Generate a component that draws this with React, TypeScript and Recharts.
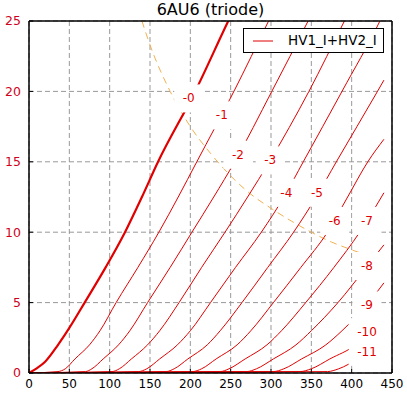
import React from "react";
import { ComposedChart, Line, Scatter, XAxis, YAxis, CartesianGrid } from "recharts";

// plate voltage (V), plate current (mA)
const g0 = [[0, 0], [10, 0.35], [20, 0.8], [36, 2.0], [50, 3.2], [69, 5], [95, 7.5], [119, 10], [140, 12.5], [160, 15], [206, 20], [247, 25], [290, 30]];
const g1 = [[0, 0], [36, 0.1], [45, 0.3], [57, 1], [75, 2], [88, 3], [108, 5], [135, 7.5], [161, 10], [185, 12.5], [208, 15], [254, 20], [297, 25], [340, 30]];
const g2 = [[0, 0], [70, 0.1], [78, 0.3], [92, 1], [111, 2], [125, 3], [147, 5], [175, 7.5], [202, 10], [229, 12.5], [255, 15], [301, 20], [346, 25], [390, 30]];
const g3 = [[0, 0], [103, 0.1], [112, 0.3], [127, 1], [147, 2], [162, 3], [186, 5], [214, 7.5], [243, 10], [271, 12.5], [298, 15], [347, 20], [391, 25], [435, 30]];
const g4 = [[0, 0], [136, 0.1], [146, 0.3], [162, 1], [184, 2], [200, 3], [225, 5], [256, 7.5], [288, 10], [316, 12.5], [340, 15], [388, 20], [435, 25], [440, 25.6]];
const g5 = [[0, 0], [170, 0.1], [180, 0.3], [197, 1], [221, 2], [237, 3], [264, 5], [296, 7.5], [328, 10], [356, 12.5], [381, 15], [432, 20], [440, 20.8]];
const g6 = [[0, 0], [203, 0.1], [214, 0.3], [232, 1], [258, 2], [275, 3], [303, 5], [337, 7.5], [370, 10], [395, 12.5], [420, 15], [440, 16.6]];
const g7 = [[0, 0], [237, 0.1], [248, 0.3], [268, 1], [295, 2], [313, 3], [343, 5], [378, 7.5], [410, 10], [440, 12.8]];
const g8 = [[0, 0], [270, 0.1], [282, 0.3], [303, 1], [331, 2], [350, 3], [383, 5], [418, 7.5], [440, 9.1]];
const g9 = [[0, 0], [303, 0.1], [316, 0.3], [338, 1], [368, 2], [388, 3], [421, 5], [440, 6.4]];
const g10 = [[0, 0], [336, 0.1], [350, 0.3], [373, 1], [405, 2], [424, 3], [440, 3.8]];
const g11 = [[0, 0], [370, 0.1], [384, 0.3], [408, 1], [440, 2.0]];

// max plate dissipation line
const pmax = [[140, 25], [150, 23.3], [175, 20], [200, 17.5], [225, 15.6], [250, 14], [275, 12.7], [300, 11.7], [325, 10.8], [350, 10], [375, 9.3], [400, 8.75], [427, 8.2]];

const labelText = ["-0", "-1", "-2", "-3", "-4", "-5", "-6", "-7", "-8", "-9", "-10", "-11"];
const labelV = [198, 239, 259, 299, 319, 357, 379, 419, 419, 419, 419, 419];
const labelI = [19.5, 18.3, 15.5, 15.1, 12.8, 12.8, 10.8, 10.8, 7.6, 4.8, 2.9, 1.5];

const xTicks = [0, 50, 100, 150, 200, 250, 300, 350, 400, 450];
const yTicks = [0, 5, 10, 15, 20, 25];

const RED = "#e00000";
const FONT = "DejaVu Sans";

const curves = [g0, g1, g2, g3, g4, g5, g6, g7, g8, g9, g10, g11];
const toRows = (pts: number[][]) => pts.map(([v, i]) => ({ v, i }));
const labels = labelText.map((t, k) => ({ v: labelV[k], i: labelI[k], t }));

const LabelBox = (props: any) => {
  const { cx, cy, payload } = props;
  const w = payload.t.length * 7.5 + 14;
  return (
    <g>
      <rect x={cx - w / 2} y={cy - 14} width={w} height={28} fill="#fff" />
      <text x={cx} y={cy} textAnchor="middle" dominantBaseline="central" fill={RED} fontSize={12} fontFamily={FONT}>
        {payload.t}
      </text>
    </g>
  );
};

export default function App() {
  return (
    <div style={{ position: "absolute", left: 0, top: 0, width: 407, height: 398, background: "#fff", fontFamily: FONT }}>
      <ComposedChart width={407} height={398} margin={{ top: 0, right: 0, bottom: 0, left: 0 }}>
        <CartesianGrid strokeDasharray="5 3" stroke="#999" />
        <XAxis
          dataKey="v"
          type="number"
          domain={[0, 450]}
          ticks={xTicks}
          height={25}
          tickSize={-4}
          tickMargin={10}
          tick={{ fill: "#000", fontSize: 12, fontFamily: FONT }}
          axisLine={{ stroke: "#000", strokeWidth: 1.5 }}
          tickLine={{ stroke: "#000" }}
        />
        <XAxis
          xAxisId="top"
          orientation="top"
          type="number"
          domain={[0, 450]}
          ticks={xTicks}
          height={21}
          tickSize={-4}
          tick={false}
          axisLine={{ stroke: "#000", strokeWidth: 1.5 }}
          tickLine={{ stroke: "#000" }}
        />
        <YAxis
          type="number"
          domain={[0, 25]}
          allowDataOverflow
          ticks={yTicks}
          width={29}
          tickSize={-4}
          tickMargin={12}
          tick={{ fill: "#d0021b", fontSize: 12.5, fontFamily: FONT }}
          axisLine={{ stroke: "#000", strokeWidth: 1.5 }}
          tickLine={{ stroke: "#000" }}
        />
        <YAxis
          yAxisId="right"
          orientation="right"
          type="number"
          domain={[0, 25]}
          ticks={yTicks}
          width={15}
          tickSize={-4}
          tick={false}
          axisLine={{ stroke: "#000", strokeWidth: 1.5 }}
          tickLine={{ stroke: "#000" }}
        />
        <Line
          data={toRows(pmax)}
          dataKey="i"
          type="monotone"
          stroke="#f0b050"
          strokeWidth={1}
          strokeDasharray="7 5"
          dot={false}
          activeDot={false}
          isAnimationActive={false}
        />
        {curves.map((c, k) => (
          <Line
            key={k}
            data={toRows(c)}
            dataKey="i"
            type="monotone"
            stroke={RED}
            strokeWidth={k === 0 ? 2.2 : 1}
            dot={false}
            activeDot={false}
            isAnimationActive={false}
          />
        ))}
        <Scatter data={labels} dataKey="i" shape={<LabelBox />} isAnimationActive={false} />
      </ComposedChart>

      <div
        style={{
          position: "absolute",
          left: 29,
          top: 1,
          width: 363,
          textAlign: "center",
          fontSize: 16,
          lineHeight: 1.1,
          color: "#000",
        }}
      >
        6AU6 (triode)
      </div>

      <div
        style={{
          position: "absolute",
          left: 243,
          top: 28,
          width: 141,
          height: 25,
          boxSizing: "border-box",
          border: "1px solid #000",
          background: "#fff",
        }}
      >
        <svg width={40} height={23} style={{ position: "absolute", left: 0, top: 0 }}>
          <line x1={9} y1={12} x2={29} y2={12} stroke={RED} strokeWidth={1} />
        </svg>
        <span style={{ position: "absolute", left: 44, top: 5, fontSize: 13.5, lineHeight: 1, color: "#000", whiteSpace: "nowrap" }}>
          HV1_I+HV2_I
        </span>
      </div>
    </div>
  );
}
